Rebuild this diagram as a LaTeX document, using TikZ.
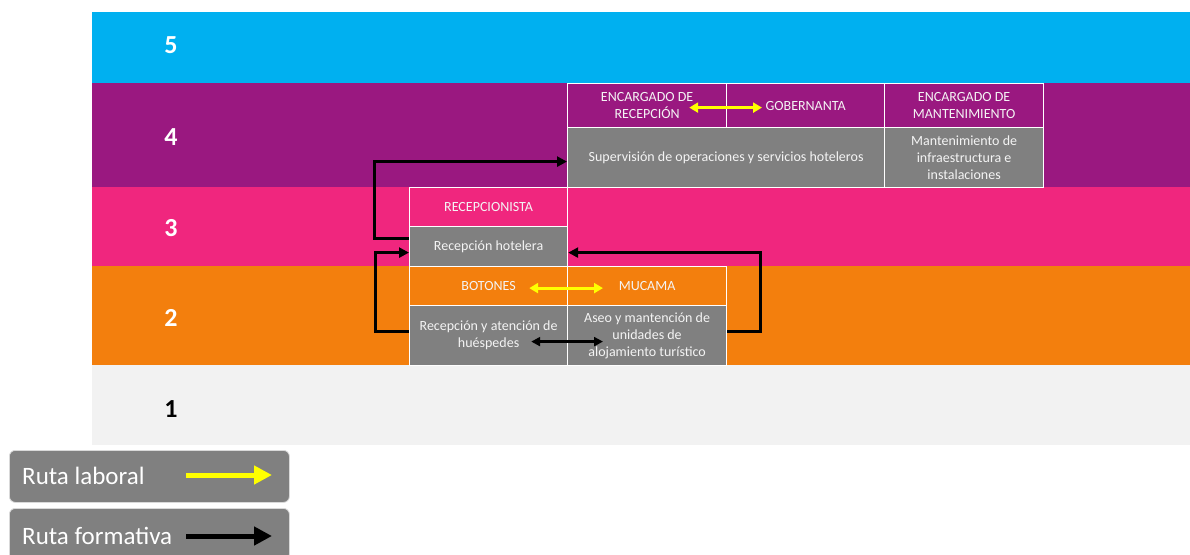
\documentclass[tikz,border=0pt]{standalone}
\usepackage{fontspec}
\setmainfont{Carlito}
\usetikzlibrary{arrows.meta}
\definecolor{cblue}{HTML}{00B0F0}
\definecolor{cpurple}{HTML}{9A1880}
\definecolor{cpink}{HTML}{F0267E}
\definecolor{corange}{HTML}{F37F0D}
\definecolor{clight}{HTML}{F2F2F2}
\definecolor{cgray}{HTML}{808080}
\definecolor{cyel}{HTML}{FFFF00}
\definecolor{ctext}{HTML}{F4F4F4}
\tikzset{
  cell/.style={draw=white, line width=1.2pt, inner sep=0pt, anchor=north west,
    text=ctext, align=center, font=\fontsize{14}{17}\selectfont},
  num/.style={font=\fontsize{26}{30}\selectfont\bfseries},
  legbox/.style={draw=black!15, line width=0.8pt, fill=cgray, rounded corners=6pt,
    anchor=north west, inner sep=0pt, minimum width=280pt},
  legtext/.style={anchor=west, text=white, font=\fontsize{25}{29}\selectfont, inner sep=0pt},
  form/.style={line width=3pt, -{Triangle[length=10pt,width=10pt]}},
  formd/.style={line width=3pt, {Triangle[length=9pt,width=9pt]}-{Triangle[length=9pt,width=9pt]}},
  lab/.style={cyel, line width=3pt, {Triangle[length=9pt,width=10pt]}-{Triangle[length=9pt,width=10pt]}},
}
\begin{document}
\begin{tikzpicture}[x=1pt,y=-1pt]
\useasboundingbox (0,0) rectangle (1190,554);
% bands
\fill[cblue] (92,12) rectangle (1190,83);
\fill[cpurple] (92,83) rectangle (1190,187);
\fill[cpink] (92,187) rectangle (1190,266);
\fill[corange] (92,266) rectangle (1190,365);
\fill[clight] (92,365) rectangle (1190,445);
% level numbers
\node[num, text=white] (n5) at (171,45) {5};
\node[num, text=white] (n4) at (171,137) {4};
\node[num, text=white] (n3) at (171,228) {3};
\node[num, text=white] (n2) at (171,318) {2};
\node[num, text=black] (n1) at (171,409) {1};
% level 4
\node[cell, fill=cpurple, minimum width=159pt, minimum height=44pt] (encrec) at (567,83) {ENCARGADO DE\\RECEPCIÓN};
\node[cell, fill=cpurple, minimum width=158pt, minimum height=44pt] (gob) at (726,83) {GOBERNANTA};
\node[cell, fill=cpurple, minimum width=159pt, minimum height=44pt] (encman) at (884,83) {ENCARGADO DE\\MANTENIMIENTO};
\node[cell, fill=cgray, minimum width=317pt, minimum height=60pt] (sup) at (567,127) {Supervisión de operaciones y servicios hoteleros};
\node[cell, fill=cgray, minimum width=159pt, minimum height=60pt] (man) at (884,127) {Mantenimiento de\\infraestructura e\\instalaciones};
% level 3
\node[cell, fill=cpink, minimum width=158pt, minimum height=39pt] (recep) at (409,187) {RECEPCIONISTA};
\node[cell, fill=cgray, minimum width=158pt, minimum height=40pt] (rh) at (409,226) {Recepción hotelera};
% level 2
\node[cell, fill=corange, minimum width=158pt, minimum height=39pt] (bot) at (409,266) {BOTONES};
\node[cell, fill=corange, minimum width=159pt, minimum height=39pt] (muc) at (567,266) {MUCAMA};
\node[cell, fill=cgray, minimum width=158pt, minimum height=60pt] (rah) at (409,305) {Recepción y atención de\\huéspedes};
\node[cell, fill=cgray, minimum width=159pt, minimum height=60pt] (aseo) at (567,305) {Aseo y mantención de\\unidades de\\alojamiento turístico};
% laboral arrows
\draw[lab] ([xshift=-38pt,yshift=-2pt]encrec.east) -- ([xshift=36pt,yshift=-2pt]gob.west);
\draw[lab] ([xshift=-39pt,yshift=-2pt]bot.east) -- ([xshift=36pt,yshift=-2pt]muc.west);
% formative arrows
\draw[formd] ([xshift=-37pt,yshift=-6pt]rah.east) -- ([xshift=36pt,yshift=-6pt]aseo.west);
\draw[form] ([yshift=8pt]rh.west) -- ++(-35,0) |- ([yshift=-4pt]sup.west);
\draw[form] ([yshift=4pt]rah.west) -- ++(-34,0) |- ([yshift=-6pt]rh.west);
\draw[form] ([yshift=4pt]aseo.east) -- ++(33,0) |- ([yshift=-6pt]rh.east);
% legend
\node[legbox, minimum height=52pt] (leg1) at (9,450) {};
\node[legtext] (leg1t) at (22,476) {Ruta laboral};
\coordinate (l1a) at (186,475);
\coordinate (l1b) at (272,475);
\draw[cyel, line width=5pt, -{Triangle[length=18pt,width=18pt]}] (l1a) -- (l1b);
\node[legbox, minimum height=52pt] (leg2) at (9,508) {};
\node[legtext] (leg2t) at (22,536) {Ruta formativa};
\coordinate (l2a) at (186,536);
\coordinate (l2b) at (272,536);
\draw[black, line width=5pt, -{Triangle[length=18pt,width=18pt]}] (l2a) -- (l2b);
\end{tikzpicture}
\end{document}
